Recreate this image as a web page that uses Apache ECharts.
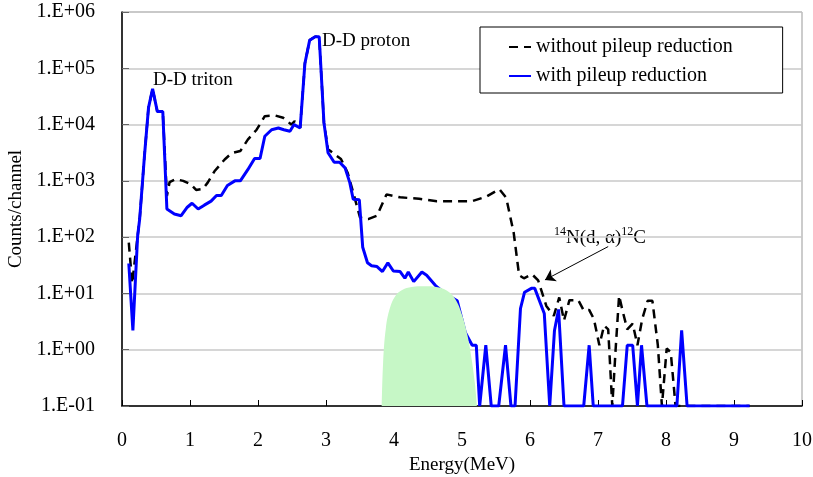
<!DOCTYPE html>
<html>
<head>
<meta charset="utf-8">
<script src="https://cdn.jsdelivr.net/npm/echarts@6/dist/echarts.min.js"></script>
<style>
  html, body { margin: 0; padding: 0; background: #fff; }
  #spectrum { width: 813px; height: 477px; }
</style>
</head>
<body>
<div id="spectrum"></div>
<script>
// without pileup reduction (dashed)
var energyWithout = [0.10, 0.15, 0.23, 0.26, 0.33, 0.39, 0.45, 0.52, 0.60, 0.66, 0.70, 0.79, 0.90, 1.01, 1.09, 1.19, 1.26, 1.36, 1.51, 1.61,
  1.74, 1.85, 1.98, 2.10, 2.25, 2.37, 2.49, 2.54, 2.62, 2.69, 2.76, 2.84, 2.90, 2.97, 3.03, 3.13, 3.22, 3.32, 3.40, 3.50,
  3.62, 3.75, 3.89, 4.09, 4.37, 4.63, 4.85, 5.15, 5.36, 5.55, 5.65, 5.76, 5.84, 5.91, 6.03, 6.12, 6.24, 6.35, 6.43, 6.50,
  6.58, 6.71, 6.79, 6.87, 6.94, 7.02, 7.09, 7.15, 7.21, 7.26, 7.31, 7.36, 7.43, 7.51, 7.58, 7.65, 7.73, 7.80, 7.88, 7.94,
  8.01, 8.07, 8.14, 9.23];
var countsWithout = [80, 15, 105, 210, 2750, 20000, 43000, 17000, 17000, 540, 950, 1070, 1000, 870, 690, 720, 930, 1480, 2400, 3100,
  3400, 5400, 8100, 14100, 14500, 13200, 10000, 11500, 8700, 123000, 316000, 363000, 363000, 10700, 3630, 2950, 2450, 1380, 620, 224,
  209, 240, 575, 510, 480, 436, 436, 436, 525, 710, 500, 120, 21, 18.6, 21.9, 17, 6, 4, 8.5, 3.3,
  7.6, 7.6, 5, 5.1, 3.5, 1.2, 2.7, 2.3, 0.1, 1.05, 9.1, 5, 2.3, 2.9, 1.2, 3.5, 7.4, 7.4, 1.2, 0.1,
  1.05, 0.9, 0.1, 0.1];

// with pileup reduction (solid blue)
var energyWith = [0.10, 0.16, 0.23, 0.26, 0.33, 0.39, 0.45, 0.52, 0.60, 0.66, 0.77, 0.87, 0.96, 1.03, 1.12, 1.21, 1.31, 1.39, 1.46, 1.55,
  1.66, 1.74, 1.85, 1.95, 2.03, 2.10, 2.20, 2.30, 2.38, 2.47, 2.53, 2.62, 2.69, 2.76, 2.84, 2.90, 2.97, 3.03, 3.12, 3.20,
  3.28, 3.35, 3.40, 3.49, 3.54, 3.61, 3.67, 3.75, 3.83, 3.91, 3.99, 4.09, 4.16, 4.21, 4.29, 4.41, 4.48, 4.61, 4.75, 4.93,
  5.05, 5.15, 5.21, 5.26, 5.35, 5.43, 5.54, 5.64, 5.72, 5.78, 5.86, 5.92, 6.02, 6.07, 6.21, 6.29, 6.36, 6.42, 6.50, 6.79,
  6.87, 6.93, 7.36, 7.43, 7.51, 7.58, 7.64, 7.72, 8.16, 8.23, 8.31, 9.23];
var countsWith = [34, 2.2, 105, 210, 2750, 20000, 43000, 17000, 17000, 316, 257, 240, 340, 400, 316, 370, 436, 550, 550, 830,
  1000, 1000, 1580, 2500, 2500, 6200, 8100, 8700, 8100, 7600, 10000, 8700, 123000, 316000, 363000, 363000, 10700, 3160, 2140, 2140,
  1700, 930, 470, 460, 66, 35, 31, 30, 24.5, 35, 25, 24.5, 18.6, 24, 16.2, 24, 21, 13.8, 10, 7.4,
  2, 1.2, 1.2, 0.1, 1.2, 0.1, 0.1, 1.2, 0.1, 0.1, 5.4, 10.5, 12.3, 12.3, 4.4, 0.1, 2.2, 5.2, 0.1, 0.1,
  1.2, 0.1, 0.1, 1.2, 1.2, 0.1, 1.2, 0.1, 0.1, 2.2, 0.1, 0.1];

// green highlighted region
var energyBand = [3.82, 3.84, 3.88, 3.94, 4.02, 4.12, 4.26, 4.45, 4.62, 4.78, 4.90, 5.00, 5.08, 5.14, 5.19, 5.22];
var countsBand = [0.1, 0.6, 2.4, 5.5, 9.0, 11.5, 13.0, 13.4, 13.0, 11.2, 8.0, 4.2, 1.8, 0.7, 0.25, 0.1];

var seriesNames = ['without pileup reduction', 'with pileup reduction'];
var xTicks = [0, 1, 2, 3, 4, 5, 6, 7, 8, 9, 10];

// arrow for the 14N(d,a)12C peak
var arrowFrom = [7.15, 68];
var arrowTo = [6.22, 17.4];

function pairs(xs, ys) {
  return xs.map(function (x, i) { return [x, ys[i]]; });
}

function expLabel(v) {
  var e = Math.round(Math.log10(v));
  var s = e < 0 ? '-' : '+';
  var a = Math.abs(e);
  return '1.E' + s + (a < 10 ? '0' + a : a);
}

var chart = echarts.init(document.getElementById('spectrum'));
var serif = 'Liberation Serif';

var option = {
  animation: false,
  textStyle: { fontFamily: serif, color: '#000' },
  grid: {
    left: 122, right: 11, top: 12, bottom: 71,
    outerBoundsMode: 'none',
    containLabel: false,
    show: true, borderColor: '#999', borderWidth: 1
  },
  legend: {
    data: seriesNames,
    orient: 'vertical',
    left: 480, top: 27,
    padding: [10, 50, 7, 28],
    itemGap: 9,
    itemWidth: 22,
    itemHeight: 14,
    backgroundColor: '#fff',
    borderColor: '#000',
    borderWidth: 1,
    itemStyle: { opacity: 0 },
    textStyle: { fontFamily: serif, fontSize: 20, color: '#000' }
  },
  xAxis: {
    type: 'value',
    min: xTicks[0], max: xTicks[xTicks.length - 1], interval: 1,
    name: 'Energy(MeV)',
    nameLocation: 'middle',
    nameGap: 48,
    nameTextStyle: { fontFamily: serif, fontSize: 19, color: '#000' },
    axisLine: { lineStyle: { color: '#000', width: 1.5 } },
    axisTick: { inside: true, length: 6, lineStyle: { color: '#000' } },
    axisLabel: { fontFamily: serif, fontSize: 20, color: '#000', margin: 25 },
    splitLine: { show: false }
  },
  yAxis: {
    type: 'log',
    logBase: 10,
    min: 0.1, max: 1e6,
    name: 'Counts/channel',
    nameLocation: 'middle',
    nameGap: 90,
    nameTextStyle: { fontFamily: serif, fontSize: 19, color: '#000' },
    axisLine: { lineStyle: { color: '#000', width: 1.5 } },
    axisTick: { inside: true, length: 7, lineStyle: { color: '#666' } },
    axisLabel: { fontFamily: serif, fontSize: 20, color: '#000', margin: 27, formatter: expLabel },
    splitLine: { show: true, lineStyle: { color: '#c8c8c8', width: 1.5 } },
    minorTick: { show: false }
  },
  series: [
    {
      name: seriesNames[0],
      type: 'line',
      symbol: 'none',
      z: 2,
      data: pairs(energyWithout, countsWithout),
      lineStyle: { color: '#000', width: 2.5, type: [9, 6] },
      itemStyle: { color: '#000' },
      markLine: {
        silent: true,
        symbol: ['none', 'arrow'],
        symbolSize: 10,
        label: { show: false },
        lineStyle: { color: '#000', width: 1, type: 'solid' },
        data: [[{ coord: arrowFrom }, { coord: arrowTo }]]
      }
    },
    {
      name: seriesNames[1],
      type: 'line',
      symbol: 'none',
      z: 3,
      data: pairs(energyWith, countsWith),
      lineStyle: { color: '#0000ff', width: 3 },
      itemStyle: { color: '#0000ff' }
    },
    {
      name: 'band',
      type: 'line',
      symbol: 'none',
      smooth: 0.4,
      z: 4,
      data: pairs(energyBand, countsBand),
      lineStyle: { width: 0 },
      areaStyle: { color: '#c6f7c6', opacity: 1, origin: 'start' },
      itemStyle: { color: '#c6f7c6' }
    }
  ],
  graphic: [
    { type: 'text', left: 153, top: 71, style: { text: 'D-D triton', font: '19px "Liberation Serif"', fill: '#000' } },
    { type: 'text', left: 322, top: 32, style: { text: 'D-D proton', font: '19px "Liberation Serif"', fill: '#000' } },
    {
      type: 'text', left: 554, top: 226,
      style: {
        text: '{s|14}{n|N(d, α)}{s|12}{n|C}',
        rich: {
          n: { fontFamily: serif, fontSize: 19, color: '#000', lineHeight: 22, verticalAlign: 'bottom' },
          s: { fontFamily: serif, fontSize: 12, color: '#000', lineHeight: 22, verticalAlign: 'top' }
        }
      }
    }
  ]
};

chart.setOption(option);
</script>
</body>
</html>
